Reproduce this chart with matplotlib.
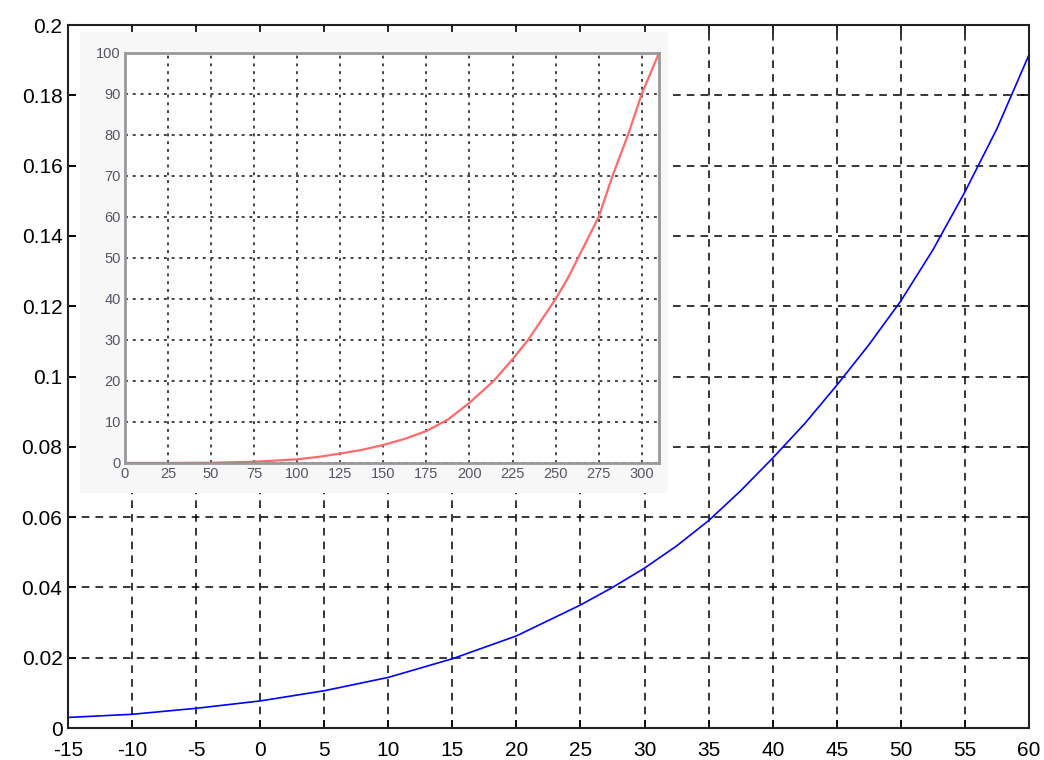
import matplotlib
matplotlib.use("Agg")
import matplotlib.pyplot as plt
from matplotlib.patches import Rectangle

plt.rcParams['font.family'] = ['Liberation Sans', 'DejaVu Sans']

# main curve (blue)
main_x = [-15, -10, -5, 0, 5, 10, 15, 20, 25, 27.5, 30, 32.5, 35, 37.5, 40,
          42.5, 45, 47.5, 50, 52.5, 55, 57.5, 60]
main_y = [0.0030, 0.0039, 0.0056, 0.0077, 0.0106, 0.0144, 0.0197, 0.0262,
          0.0350, 0.0400, 0.0455, 0.0518, 0.0590, 0.0675, 0.0768, 0.0866,
          0.0975, 0.1090, 0.1215, 0.1360, 0.1525, 0.1705, 0.1915]
main_xticks = list(range(-15, 61, 5))
main_yticks = [0, 0.02, 0.04, 0.06, 0.08, 0.1, 0.12, 0.14, 0.16, 0.18, 0.2]
main_ylabels = ['0', '0.02', '0.04', '0.06', '0.08', '0.1', '0.12', '0.14',
                '0.16', '0.18', '0.2']

# inset curve (red)
inset_x = [0, 25, 50, 75, 100, 112.5, 125, 137.5, 150, 162.5, 175, 187.5,
           200, 214, 225, 234, 242, 250, 257, 263, 269, 275, 283, 292,
           300, 310]
inset_y = [0, 0, 0.05, 0.3, 0.9, 1.5, 2.3, 3.2, 4.4, 5.9, 7.8, 10.6,
           14.7, 20, 25.3, 30, 35, 40, 45, 50, 55, 60, 70, 80,
           90, 100]
inset_xticks = list(range(0, 301, 25))
inset_yticks = list(range(0, 101, 10))

fig = plt.figure(figsize=(10.44, 7.6), dpi=100)
ax = fig.add_axes([0.0651, 0.0421, 0.9205, 0.925])
ax.plot(main_x, main_y, color='#0000ff', lw=1.2)
ax.set_xlim(-15, 60)
ax.set_ylim(0, 0.2)
ax.set_xticks(main_xticks)
ax.set_xticklabels([str(v) for v in main_xticks])
ax.set_yticks(main_yticks)
ax.set_yticklabels(main_ylabels)
ax.tick_params(direction='in', length=6, width=1.2, top=True, right=True,
               labelsize=15, pad=4)
ax.tick_params(axis='x', pad=9)
ax.grid(True, color='black', linestyle=(0, (5, 4)), lw=1.1)
for s in ax.spines.values():
    s.set_linewidth(1.5)
    s.set_color('#222222')

# pasted-looking inset panel
bg = Rectangle((0.0766, 0.3513), 0.5632, 0.6066, transform=fig.transFigure,
               facecolor='#f7f7f7', edgecolor='none', zorder=5)
fig.patches.append(bg)

ins = fig.add_axes([0.1197, 0.3908, 0.5115, 0.5395], zorder=10)
ins.set_facecolor('#fefefe')
ins.plot(inset_x, inset_y, color='#ff6a6a', lw=1.6)
ins.plot([0, 75], [0, 0], color='#b03030', lw=2.2)
ins.set_xlim(0, 310)
ins.set_ylim(0, 100)
ins.set_xticks(inset_xticks)
ins.set_yticks(inset_yticks)
ins.tick_params(direction='in', length=0, labelsize=10.5,
                labelcolor='#555566', pad=3)
ins.grid(True, color='#444444', linestyle=(0, (1.5, 2.5)), lw=1.4)
for s in ins.spines.values():
    s.set_linewidth(2)
    s.set_color('#999999')

fig.savefig('out.png', dpi=100)
